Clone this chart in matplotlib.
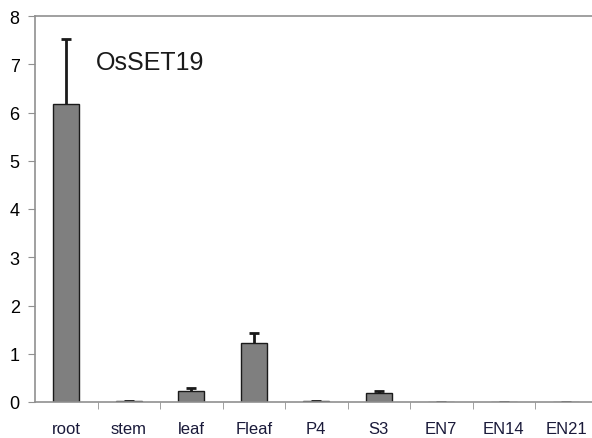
import matplotlib.pyplot as plt
import numpy as np

plt.rcParams['font.family'] = ['Liberation Sans', 'DejaVu Sans']

categories = ['root', 'stem', 'leaf', 'Fleaf', 'P4', 'S3', 'EN7', 'EN14', 'EN21']
values = [6.17, 0.02, 0.22, 1.22, 0.02, 0.19, 0.01, 0.01, 0.01]
errors = [1.36, 0.0, 0.08, 0.20, 0.01, 0.03, 0.0, 0.0, 0.0]

fig = plt.figure(figsize=(5.92, 4.39), dpi=100)
ax = fig.add_axes([35 / 592, 1 - 403 / 439, 562.5 / 592, 386 / 439])

x = np.arange(len(categories))
vals = np.array(values)
tops = vals + np.array(errors)

# upper error bars only (line + cap), drawn under the bars
ax.vlines(x, vals, tops, color='#1a1a1a', linewidth=2, zorder=1)
ax.hlines(tops, x - 0.08, x + 0.08, color='#1a1a1a', linewidth=2, zorder=1)
ax.bar(x, values, width=0.42, color='#7f7f7f', edgecolor='#1a1a1a', linewidth=1.0, zorder=2)

ax.set_xlim(-0.5, len(categories) - 0.5)
ax.set_ylim(0, 8)
ax.set_yticks(range(0, 9))
ax.set_xticks(x)
ax.set_xticklabels(categories, color='#1a1a3a')
ax.set_xticks(np.arange(0.5, len(categories) - 0.5, 1), minor=True)
ax.tick_params(axis='x', which='major', length=0, pad=14, labelsize=12)
ax.tick_params(axis='x', which='minor', length=5, color='#909090', direction='out')
ax.tick_params(axis='y', length=5, color='#909090', labelsize=13, pad=6)

for side in ['left', 'bottom', 'top']:
    ax.spines[side].set_color('#909090')
    ax.spines[side].set_linewidth(1.2)
ax.spines['right'].set_visible(False)

ax.text(0.48, 7.05, 'OsSET19', fontsize=18, color='#1a1a1a', va='center', ha='left')

fig.savefig('out.png', dpi=100)
